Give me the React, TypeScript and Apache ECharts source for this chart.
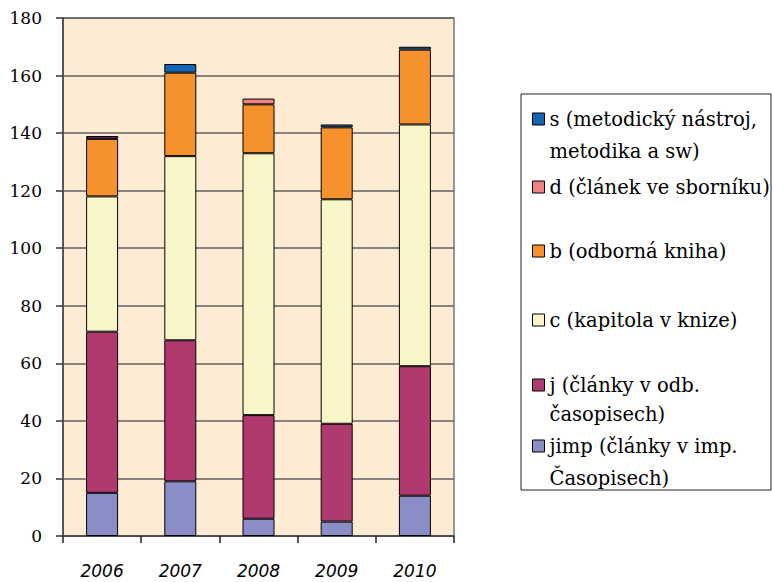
import React, { useEffect, useRef } from 'react';
import * as echarts from 'echarts';

const years = ['2006', '2007', '2008', '2009', '2010'];
const jimpValues = [15, 19, 6, 5, 14];
const jValues = [56, 49, 36, 34, 45];
const cValues = [47, 64, 91, 78, 84];
const bValues = [20, 29, 17, 25, 26];
const dValues = [0, 0, 2, 0, 0];
const sValues = [1, 3, 0, 1, 1];

const seriesNames = [
  'jimp (články v imp. Časopisech)',
  'j (články v odb. časopisech)',
  'c (kapitola v knize)',
  'b (odborná kniha)',
  'd (článek ve sborníku)',
  's (metodický nástroj, metodika a sw)',
];
const legendLabels = [
  'jimp (články v imp.\nČasopisech)',
  'j (články v odb.\nčasopisech)',
  'c (kapitola v knize)',
  'b (odborná kniha)',
  'd (článek ve sborníku)',
  's (metodický nástroj,\nmetodika a sw)',
];
const colors = ['#8b8ec6', '#b03a70', '#f8f6c8', '#f6922e', '#f08282', '#1565b5'];

const SERIF = 'DejaVu Serif';

export default function App() {
  const ref = useRef<HTMLDivElement>(null);
  useEffect(() => {
    if (!ref.current) return;
    const chart = echarts.init(ref.current, null, { renderer: 'svg' });
    const all = [jimpValues, jValues, cValues, bValues, dValues, sValues];
    const series = all.map((vals, i) => ({
      name: seriesNames[i],
      type: 'bar',
      stack: 'total',
      barWidth: 32,
      itemStyle: { color: colors[i], borderColor: '#000', borderWidth: 1 },
      data: vals.map((v, k) => {
        if (v === 0) return '-';
        if (i === 5 && k === 0) return { value: v, itemStyle: { color: '#6e2a70' } };
        return v;
      }),
    }));
    // legend layout: [seriesIndex, firstLineCenterY, lines, lineHeight]
    const legendRows: [number, number, number, number][] = [
      [5, 114, 2, 32],
      [4, 182, 1, 32],
      [3, 246, 1, 32],
      [2, 315, 1, 32],
      [1, 380, 2, 29],
      [0, 441, 2, 32],
    ];
    const legends = legendRows.map(([idx, cy, lines, lh]) => {
      const h = lines === 2 ? 12 + lh : 12;
      const icon =
        lines === 2 ? `path://M0,0L12,0L12,12L0,12Z M0,${h}` : 'rect';
      return {
        show: true,
        orient: 'vertical',
        left: 527,
        top: cy - lh / 2,
        data: [seriesNames[idx]],
        icon,
        itemWidth: 12,
        itemHeight: h,
        formatter: () => legendLabels[idx],
        selectedMode: false,
        itemStyle: { borderColor: '#000', borderWidth: 1 },
        textStyle: {
          fontFamily: SERIF,
          fontSize: 19.5,
          color: '#000',
          lineHeight: lh,
        },
      };
    });
    chart.setOption({
      animation: false,
      backgroundColor: '#fff',
      textStyle: { fontFamily: SERIF },
      graphic: [
        {
          type: 'rect',
          z: -1,
          shape: { x: 521, y: 94, width: 250, height: 396 },
          style: { fill: '#fff', stroke: '#222', lineWidth: 1 },
        },
      ],
      legend: legends,
      grid: {
        left: 63,
        top: 18,
        width: 391,
        height: 518,
        show: true,
        backgroundColor: '#fdebd3',
        borderColor: '#777',
        borderWidth: 1.5,
      },
      xAxis: {
        type: 'category',
        data: years,
        axisLine: { show: true, lineStyle: { color: '#444', width: 1.5 } },
        axisTick: { show: true, length: 7, lineStyle: { color: '#222', width: 1.5 } },
        axisLabel: {
          margin: 26,
          fontFamily: 'DejaVu Sans',
          fontStyle: 'italic',
          fontSize: 17,
          color: '#000',
        },
      },
      yAxis: {
        type: 'value',
        min: 0,
        max: 180,
        interval: 20,
        axisLine: { show: true, lineStyle: { color: '#555', width: 2 } },
        axisTick: { show: true, length: 7, lineStyle: { color: '#333', width: 1.5 } },
        splitLine: { show: true, lineStyle: { color: '#606060', width: 1.5 } },
        axisLabel: {
          margin: 21,
          fontFamily: SERIF,
          fontSize: 17,
          color: '#000',
        },
      },
      series,
    });
    return () => chart.dispose();
  }, []);
  return (
    <div
      ref={ref}
      style={{ position: 'fixed', left: 0, top: 0, width: 773, height: 582 }}
    />
  );
}
